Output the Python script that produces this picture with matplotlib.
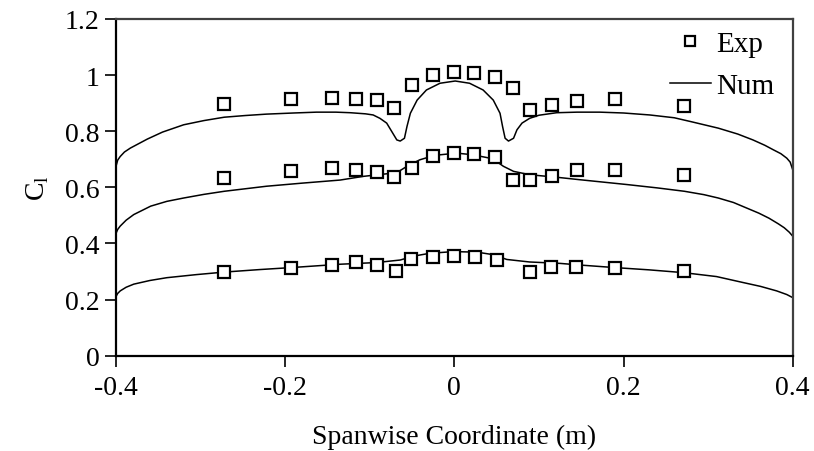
import numpy as np
import matplotlib
matplotlib.use("Agg")
from matplotlib import pyplot as plt

# ---------- Data ---------- #
# experimental spanwise positions (m)
x_exp = [-0.272, -0.193, -0.145, -0.116, -0.091, -0.071, -0.050, -0.025, 0.0,
         0.023, 0.048, 0.069, 0.089, 0.115, 0.145, 0.190, 0.271]
cl_exp_high = [0.897, 0.914, 0.919, 0.915, 0.910, 0.882, 0.966, 1.001, 1.011,
               1.006, 0.994, 0.953, 0.876, 0.894, 0.908, 0.915, 0.890]
cl_exp_mid = [0.633, 0.658, 0.669, 0.663, 0.653, 0.636, 0.669, 0.710, 0.722,
              0.719, 0.707, 0.625, 0.625, 0.640, 0.663, 0.663, 0.643]
x_exp_low = [-0.272, -0.193, -0.145, -0.116, -0.091, -0.069, -0.051, -0.025, 0.0,
             0.025, 0.050, 0.090, 0.114, 0.144, 0.190, 0.271]
cl_exp_low = [0.300, 0.314, 0.325, 0.334, 0.322, 0.301, 0.346, 0.353, 0.355,
              0.352, 0.340, 0.298, 0.315, 0.315, 0.314, 0.301]

# numerical distributions
x_num_high = [-0.400, -0.398, -0.395, -0.390, -0.383, -0.373, -0.363, -0.345, -0.320,
              -0.296, -0.272, -0.247, -0.222, -0.190, -0.163, -0.140, -0.123, -0.105,
              -0.096, -0.088, -0.080, -0.074, -0.068, -0.064, -0.059, -0.056, -0.052,
              -0.044, -0.033, -0.017, 0.001, 0.018, 0.034, 0.046, 0.054, 0.057, 0.060,
              0.064, 0.070, 0.074, 0.080, 0.089, 0.100, 0.121, 0.145, 0.172, 0.200,
              0.231, 0.260, 0.280, 0.312, 0.335, 0.353, 0.367, 0.377, 0.386, 0.393,
              0.397, 0.400]
cl_num_high = [0.675, 0.697, 0.710, 0.726, 0.740, 0.756, 0.772, 0.797, 0.823,
               0.838, 0.850, 0.856, 0.861, 0.865, 0.868, 0.868, 0.866, 0.862,
               0.858, 0.846, 0.829, 0.799, 0.769, 0.765, 0.775, 0.817, 0.864,
               0.911, 0.947, 0.971, 0.979, 0.971, 0.947, 0.911, 0.864, 0.817, 0.775,
               0.765, 0.775, 0.805, 0.829, 0.846, 0.857, 0.866, 0.868, 0.868, 0.865,
               0.858, 0.848, 0.834, 0.811, 0.790, 0.769, 0.750, 0.734, 0.720, 0.704,
               0.690, 0.663]

x_num_mid = [-0.400, -0.398, -0.395, -0.388, -0.379, -0.359, -0.340, -0.320, -0.296,
             -0.272, -0.222, -0.180, -0.135, -0.108, -0.072, -0.064, -0.056, -0.041,
             -0.030, -0.017, 0.003, 0.022, 0.042, 0.050, 0.058, 0.070, 0.089, 0.121,
             0.149, 0.204, 0.240, 0.272, 0.295, 0.312, 0.330, 0.345, 0.360, 0.372,
             0.383, 0.390, 0.396, 0.400]
cl_num_mid = [0.436, 0.450, 0.462, 0.483, 0.503, 0.533, 0.550, 0.562, 0.575,
              0.586, 0.604, 0.615, 0.626, 0.639, 0.651, 0.660, 0.675, 0.698,
              0.708, 0.716, 0.722, 0.716, 0.704, 0.692, 0.675, 0.657, 0.645, 0.636,
              0.627, 0.610, 0.598, 0.586, 0.574, 0.562, 0.546, 0.527, 0.508, 0.490,
              0.470, 0.456, 0.440, 0.426]

x_num_low = [-0.400, -0.398, -0.395, -0.388, -0.379, -0.360, -0.340, -0.305, -0.272,
             -0.230, -0.193, -0.135, -0.092, -0.064, -0.048, -0.029, -0.001, 0.027,
             0.046, 0.062, 0.089, 0.125, 0.149, 0.190, 0.230, 0.271, 0.310, 0.341,
             0.362, 0.381, 0.393, 0.400]
cl_num_low = [0.211, 0.222, 0.231, 0.244, 0.255, 0.268, 0.278, 0.289, 0.298,
              0.307, 0.314, 0.326, 0.332, 0.341, 0.355, 0.365, 0.371, 0.369,
              0.360, 0.343, 0.334, 0.329, 0.323, 0.314, 0.306, 0.296, 0.282, 0.261,
              0.247, 0.231, 0.218, 0.207]

x_ticks = [-0.4, -0.2, 0, 0.2, 0.4]
x_labels = ["-0.4", "-0.2", "0", "0.2", "0.4"]
y_ticks = [0, 0.2, 0.4, 0.6, 0.8, 1.0, 1.2]
y_labels = ["0", "0.2", "0.4", "0.6", "0.8", "1", "1.2"]

# ---------- Plotting ---------- #
plt.rcParams['font.family'] = ['Liberation Serif', 'DejaVu Serif']
plt.rcParams['mathtext.fontset'] = 'custom'
plt.rcParams['mathtext.rm'] = 'Liberation Serif'

fig = plt.figure(figsize=(8.14, 4.52), dpi=100)
ax = fig.add_axes([116/814, 1-356.7/452, (792.7-116)/814, (356.7-20)/452])

sq = dict(marker='s', markersize=8.5, markerfacecolor='white', markeredgecolor='black',
          markeredgewidth=1.6, linestyle='none')
ax.plot(x_num_high, cl_num_high, color='black', lw=1.1, label='Num', zorder=2)
ax.plot(x_num_mid, cl_num_mid, color='black', lw=1.1, zorder=2)
ax.plot(x_num_low, cl_num_low, color='black', lw=1.1, zorder=2)
ax.plot(x_exp, cl_exp_high, label='Exp', zorder=3, **sq)
ax.plot(x_exp, cl_exp_mid, zorder=3, **sq)
ax.plot(x_exp_low, cl_exp_low, zorder=3, **sq)

ax.set_xlim(-0.4, 0.4)
ax.set_ylim(0, 1.2)
ax.set_xticks(x_ticks, x_labels)
ax.set_yticks(y_ticks, y_labels)
ax.tick_params(axis='both', direction='out', length=8, width=1.2, labelsize=20, color='black')
ax.tick_params(axis='x', pad=6)
ax.tick_params(axis='y', pad=4)

for s in ['left', 'bottom']:
    ax.spines[s].set_color('black')
    ax.spines[s].set_linewidth(1.6)
for s in ['top', 'right']:
    ax.spines[s].set_color('#404040')
    ax.spines[s].set_linewidth(1.6)

ax.set_xlabel("Spanwise Coordinate (m)", fontsize=20, labelpad=17)
ax.set_ylabel(r"C$_\mathrm{l}$", fontsize=20, labelpad=10)

h, l = ax.get_legend_handles_labels()
ax.legend([h[1], h[0]], [l[1], l[0]], loc='upper left', bbox_to_anchor=(670/814, 1-32/452),
          bbox_transform=fig.transFigure, frameon=False, fontsize=21, borderpad=0,
          borderaxespad=0, handlelength=1.4, handletextpad=0.2, labelspacing=0.52,
          markerscale=0.8)

fig.savefig("out.png", dpi=100)
